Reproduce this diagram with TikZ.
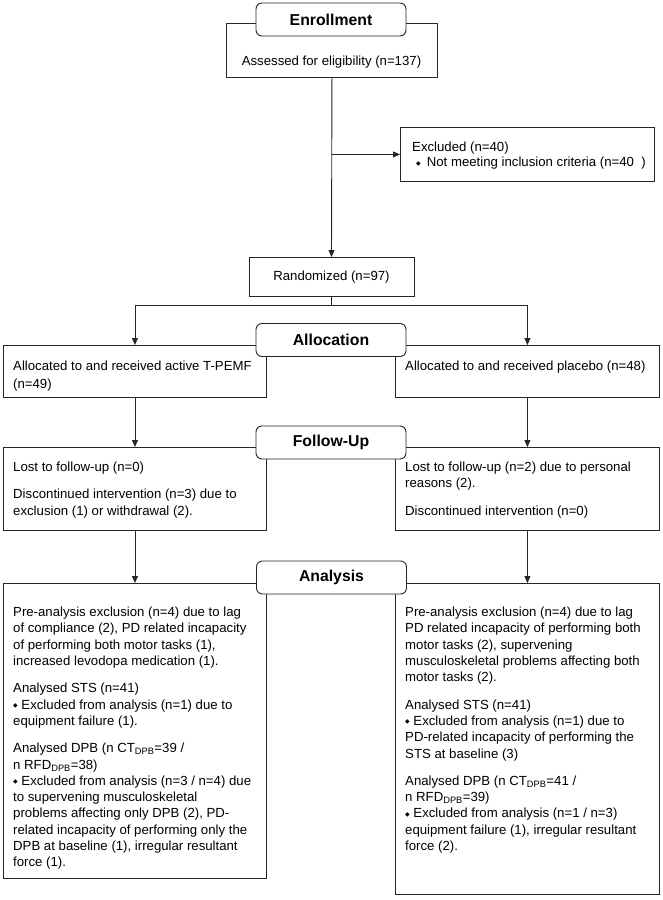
\documentclass[tikz,border=0pt]{standalone}
\usepackage{fontspec}
\setmainfont{Liberation Sans}
\newfontfamily\symfont{DejaVu Sans}
\usetikzlibrary{arrows.meta, positioning}
\newcommand{\dmd}{{\symfont\fontsize{6}{6}\selectfont\raisebox{1.5pt}{◆}}}
\newcommand{\bodyfont}{\fontsize{13.2}{16.3}\selectfont}

\begin{document}
\begin{tikzpicture}[
    x=1pt, y=-1pt,
    box/.style={rectangle, draw=black!85, line width=0.9pt, inner sep=0pt, anchor=north west},
    stage/.style={rectangle, draw=black!85, line width=0.9pt, rounded corners=6pt, fill=white, minimum width=150pt, minimum height=33pt, font=\bfseries\fontsize{15.8}{18}\selectfont},
    txt/.style={anchor=north west, inner sep=0pt, align=left, font=\bodyfont},
    link/.style={draw=black!85, line width=0.9pt},
    flow/.style={link, -{Triangle[length=7pt,width=6pt]}}
]
\useasboundingbox (0,0) rectangle (663,900);

% Enrollment
\node[box, minimum width=211pt, minimum height=54pt] (assess) at (226,23) {};
\node[inner sep=0pt, font=\bodyfont] (assesstxt) at (331.5,62) {Assessed for eligibility (n=137)};
\node[stage] (enroll) at (331,19.5) {Enrollment};

\node[box, minimum width=254pt, minimum height=54pt] (excl) at (400,127) {};
\node[txt] (excltxt) at (412,140) {\strut Excluded (n=40)\\[-1.3pt]
  \hspace{4pt}\dmd\hspace{6pt}Not meeting inclusion criteria (n=40\ \ )};

\node[box, anchor=center, minimum width=165pt, minimum height=39pt, font=\bodyfont] (rand) at (331.5,277) {Randomized (n=97)};

% Allocation
\node[box, minimum width=263pt, minimum height=52pt] (allocL) at (3,345) {};
\node[box, minimum width=264pt, minimum height=52pt] (allocR) at (395,345) {};
\node[txt] (allocLtxt) at (13,359) {\strut Allocated to and received active T-PEMF\\[1.5pt] (n=49)};
\node[txt] (allocRtxt) at (405,359) {\strut Allocated to and received placebo (n=48)};
\node[stage] (alloc) at (331,340) {Allocation};

% Follow-up
\node[box, minimum width=263pt, minimum height=83pt] (fupL) at (3,447) {};
\node[box, minimum width=264pt, minimum height=83pt] (fupR) at (395,447) {};
\node[txt] (fupLtxt) at (13,460) {\strut Lost to follow-up (n=0)\\[11pt]
  Discontinued intervention (n=3) due to\\
  exclusion (1) or withdrawal (2).};
\node[txt] (fupRtxt) at (405,460) {\strut Lost to follow-up (n=2) due to personal\\
  reasons (2).\\[11pt]
  Discontinued intervention (n=0)};
\node[stage] (fup) at (331,442.5) {Follow-Up};

% Analysis
\node[box, minimum width=263pt, minimum height=295pt] (anaL) at (3,583) {};
\node[box, minimum width=264pt, minimum height=311pt] (anaR) at (395,583) {};
\node[txt] (anaLtxt) at (13,605) {\strut Pre-analysis exclusion (n=4) due to lag\\
  of compliance (2), PD related incapacity\\
  of performing both motor tasks (1),\\
  increased levodopa medication (1).\\[11pt]
  Analysed STS (n=41)\\
  \dmd\ Excluded from analysis (n=1) due to\\
  equipment failure (1).\\[11pt]
  Analysed DPB (n CT\textsubscript{DPB}=39 /\\
  n RFD\textsubscript{DPB}=38)\\
  \dmd\ Excluded from analysis (n=3 / n=4) due\\
  to supervening musculoskeletal\\
  problems affecting only DPB (2), PD-\\
  related incapacity of performing only the\\
  DPB at baseline (1), irregular resultant\\
  force (1).};
\node[txt] (anaRtxt) at (405,605) {\strut Pre-analysis exclusion (n=4) due to lag\\
  PD related incapacity of performing both\\
  motor tasks (2), supervening\\
  musculoskeletal problems affecting both\\
  motor tasks (2).\\[11pt]
  Analysed STS (n=41)\\
  \dmd\ Excluded from analysis (n=1) due to\\
  PD-related incapacity of performing the\\
  STS at baseline (3)\\[11pt]
  Analysed DPB (n CT\textsubscript{DPB}=41 /\\
  n RFD\textsubscript{DPB}=39)\\
  \dmd\ Excluded from analysis (n=1 / n=3)\\
  equipment failure (1), irregular resultant\\
  force (2).};
\node[stage] (ana) at (331.5,577.5) {Analysis};

% Connections
\coordinate (split) at (assess.south |- excl.west);
\coordinate (fork) at (331.5,305);
\draw[flow] (assess.south) -- (rand.north);
\draw[flow] (split) -- (excl.west);
\draw[link] (rand.south) -- (fork);
\draw[flow] (fork) -| (allocL.north);
\draw[flow] (fork) -| (allocR.north);
\draw[flow] (allocL.south) -- (fupL.north);
\draw[flow] (allocR.south) -- (fupR.north);
\draw[flow] (fupL.south) -- (anaL.north);
\draw[flow] (fupR.south) -- (anaR.north);

\end{tikzpicture}
\end{document}
